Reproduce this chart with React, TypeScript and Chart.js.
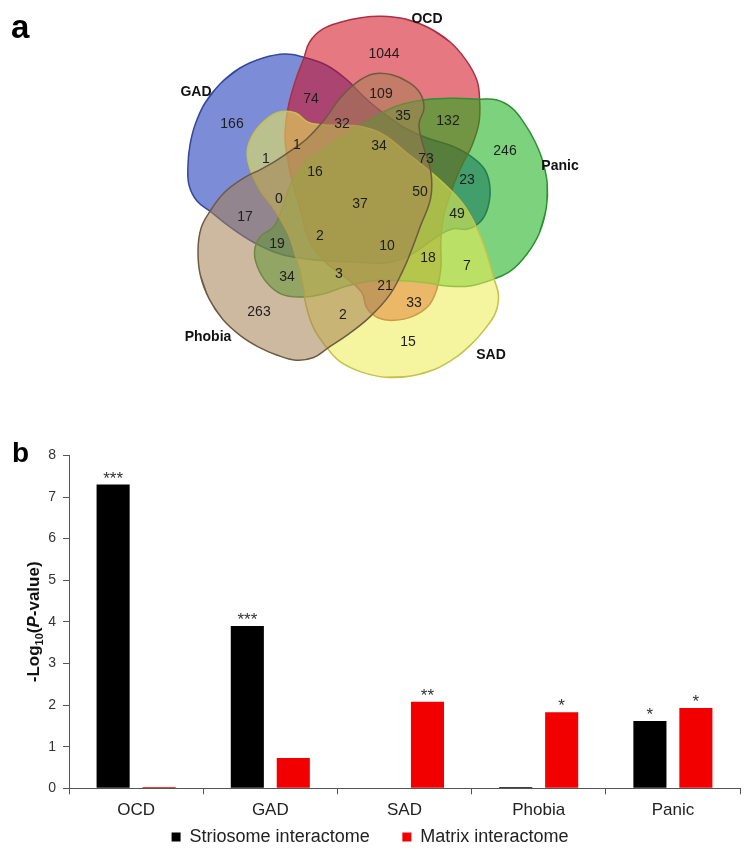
import React, { useEffect, useRef } from 'react';
import { Chart, registerables } from 'chart.js';

Chart.register(...registerables);

// ---------------- Panel a : five-set Venn diagram ----------------
const vennSets = ['GAD', 'OCD', 'Panic', 'SAD', 'Phobia'];
// each set is the same outline turned by a multiple of 72 degrees around the centre
const vennRotationDeg = [0, 72, 144, 216, 288];
const vennCentre = [363, 199];
// outline of the GAD set (x, y in the panel's 749 x 440 space)
const vennOutline: [number, number][] = [
  [220, 84], [240, 68], [263, 58], [285, 54], [303, 57], [326, 65], [346, 79], [360, 93],
  [372, 104], [386, 115], [403, 127], [427, 138], [452, 146], [472, 157], [485, 170],
  [490, 188], [488, 207], [481, 221], [468, 229], [452, 229], [435, 238], [410, 255],
  [385, 263], [355, 262], [330, 261], [307, 259], [280, 254], [253, 242], [230, 227],
  [211, 212], [197, 201], [189, 185], [188, 165], [190, 145], [195, 125], [205, 103],
];
const vennFill = [
  'rgba(19,46,182,0.55)',
  'rgba(210,10,28,0.55)',
  'rgba(19,173,19,0.55)',
  'rgba(237,237,82,0.55)',
  'rgba(164,128,82,0.55)',
];
const vennBorder = ['#33489c', '#a83244', '#2f8f35', '#c4c24a', '#6e5a40'];
const vennLayer = [5, 4, 3, 2, 1]; // lower = painted later (on top)

const setLabelX = [196, 427, 560, 491, 208];
const setLabelY = [92, 19, 166, 355, 337];

const regionCounts = [
  1044, 74, 109, 166, 32, 35, 132, 34, 246, 1, 1, 16, 73, 23, 0, 37,
  50, 49, 17, 2, 19, 10, 18, 7, 34, 3, 21, 33, 263, 2, 15,
];
const regionX = [
  384, 311, 381, 232, 342, 403, 448, 379, 505, 297, 266, 315, 426, 467, 279, 360,
  420, 457, 245, 320, 277, 387, 428, 467, 287, 339, 385, 414, 259, 343, 408,
];
const regionY = [
  54, 99, 94, 124, 124, 116, 121, 146, 151, 145, 159, 172, 159, 180, 199, 204,
  192, 214, 217, 236, 244, 246, 258, 266, 277, 274, 286, 303, 312, 315, 342,
];

// ---------------- Panel b : enrichment bars ----------------
const categories = ['OCD', 'GAD', 'SAD', 'Phobia', 'Panic'];
const striosomeValues = [7.3, 3.9, 0, 0.03, 1.62];
const matrixValues = [0.03, 0.73, 2.08, 1.83, 1.93];
const striosomeStars = ['***', '***', '', '', '*'];
const matrixStars = ['', '', '**', '*', '*'];
const seriesNames = ['Striosome interactome', 'Matrix interactome'];
const yTickMax = 8;

const SANS = '"Liberation Sans", Arial, Helvetica, sans-serif';

function rotatePt(p: [number, number], deg: number) {
  const a = (deg * Math.PI) / 180;
  const dx = p[0] - vennCentre[0];
  const dy = p[1] - vennCentre[1];
  return {
    x: vennCentre[0] + dx * Math.cos(a) - dy * Math.sin(a),
    y: vennCentre[1] + dx * Math.sin(a) + dy * Math.cos(a),
  };
}

const textPlugin = {
  id: 'textPlugin',
  afterDatasetsDraw(chart: any) {
    const ctx = chart.ctx;
    chart.data.datasets.forEach((ds: any, i: number) => {
      if (!ds.texts) return;
      const meta = chart.getDatasetMeta(i);
      ctx.save();
      ctx.font = ds.textFont;
      ctx.fillStyle = ds.textColor;
      ctx.textAlign = 'center';
      ctx.textBaseline = 'middle';
      meta.data.forEach((el: any, j: number) => {
        const t = ds.texts[j];
        if (t === '' || t === undefined) return;
        ctx.fillText(String(t), el.x, el.y);
      });
      ctx.restore();
    });
    const letter = chart.options.plugins.textPlugin?.letter;
    if (letter) {
      ctx.save();
      ctx.font = letter.font;
      ctx.fillStyle = '#000';
      ctx.textAlign = 'left';
      ctx.textBaseline = 'alphabetic';
      ctx.fillText(letter.text, letter.x, letter.y);
      ctx.restore();
    }
  },
};

const starPlugin = {
  id: 'starPlugin',
  afterDatasetsDraw(chart: any) {
    const ctx = chart.ctx;
    ctx.save();
    ctx.font = `17px ${SANS}`;
    ctx.fillStyle = '#333';
    ctx.textAlign = 'center';
    ctx.textBaseline = 'alphabetic';
    chart.data.datasets.forEach((ds: any, i: number) => {
      const meta = chart.getDatasetMeta(i);
      meta.data.forEach((bar: any, j: number) => {
        const s = ds.stars?.[j];
        if (s) ctx.fillText(s, bar.x, bar.y - 1);
      });
    });
    ctx.restore();
  },
};

const yTitlePlugin = {
  id: 'yTitlePlugin',
  afterDraw(chart: any) {
    const { ctx, chartArea } = chart;
    const cy = (chartArea.top + chartArea.bottom) / 2;
    const parts = [
      { t: '-Log', f: `bold 17px ${SANS}`, dy: 6 },
      { t: '10', f: `bold 11px ${SANS}`, dy: 10 },
      { t: '(', f: `bold 17px ${SANS}`, dy: 6 },
      { t: 'P', f: `italic bold 17px ${SANS}`, dy: 6 },
      { t: '-value)', f: `bold 17px ${SANS}`, dy: 6 },
    ];
    ctx.save();
    let total = 0;
    const widths = parts.map((p) => {
      ctx.font = p.f;
      const w = ctx.measureText(p.t).width;
      total += w;
      return w;
    });
    ctx.translate(33, cy);
    ctx.rotate(-Math.PI / 2);
    ctx.fillStyle = '#111';
    ctx.textAlign = 'left';
    ctx.textBaseline = 'alphabetic';
    let x = -total / 2;
    parts.forEach((p, i) => {
      ctx.font = p.f;
      ctx.fillText(p.t, x, p.dy);
      x += widths[i];
    });
    ctx.restore();
  },
};

function VennPanel() {
  const ref = useRef<HTMLCanvasElement | null>(null);
  useEffect(() => {
    if (!ref.current) return;
    const shapeSets = vennSets.map((name, k) => {
      const pts = vennOutline.map((p) => rotatePt(p, vennRotationDeg[k]));
      const n = pts.length;
      // wrap a point on each side so the closed outline stays smooth
      const data = [pts[n - 1], ...pts, pts[0], pts[1]];
      return {
        label: name,
        data,
        showLine: true,
        fill: 'shape',
        tension: 0.4,
        backgroundColor: vennFill[k],
        borderColor: vennBorder[k],
        borderWidth: 1.5,
        pointRadius: 0,
        order: vennLayer[k],
      };
    });
    const counts = {
      label: 'counts',
      data: regionCounts.map((_, i) => ({ x: regionX[i], y: regionY[i] })),
      texts: regionCounts,
      textFont: `14px ${SANS}`,
      textColor: '#1e1e1e',
      pointRadius: 0,
      showLine: false,
      order: 0,
    };
    const names = {
      label: 'names',
      data: vennSets.map((_, i) => ({ x: setLabelX[i], y: setLabelY[i] })),
      texts: vennSets,
      textFont: `bold 14px ${SANS}`,
      textColor: '#111',
      pointRadius: 0,
      showLine: false,
      order: 0,
    };
    const chart = new Chart(ref.current, {
      type: 'scatter',
      data: { datasets: [...shapeSets, counts, names] as any },
      options: {
        animation: false,
        responsive: false,
        devicePixelRatio: 1,
        events: [],
        layout: { padding: 0 },
        scales: {
          x: { type: 'linear', min: 0, max: 749, display: false },
          y: { type: 'linear', min: 0, max: 440, reverse: true, display: false },
        },
        plugins: {
          legend: { display: false },
          tooltip: { enabled: false },
          textPlugin: { letter: { text: 'a', x: 11, y: 38, font: `bold 33px ${SANS}` } },
        } as any,
      },
      plugins: [textPlugin],
    });
    return () => chart.destroy();
  }, []);
  return <canvas ref={ref} width={749} height={440} style={{ display: 'block' }} />;
}

function BarPanel() {
  const ref = useRef<HTMLCanvasElement | null>(null);
  useEffect(() => {
    if (!ref.current) return;
    const chart = new Chart(ref.current, {
      type: 'bar',
      data: {
        labels: categories,
        datasets: [
          {
            label: seriesNames[0],
            data: striosomeValues,
            backgroundColor: '#000000',
            borderWidth: 0,
            categoryPercentage: 0.685,
            barPercentage: 0.72,
            stars: striosomeStars,
          } as any,
          {
            label: seriesNames[1],
            data: matrixValues,
            backgroundColor: '#f20000',
            borderWidth: 0,
            categoryPercentage: 0.685,
            barPercentage: 0.72,
            stars: matrixStars,
          } as any,
        ],
      },
      options: {
        animation: false,
        responsive: false,
        devicePixelRatio: 1,
        events: [],
        layout: { padding: { top: 7, right: 9, bottom: 10, left: 0 } },
        scales: {
          x: {
            grid: { offset: true, drawOnChartArea: false, drawTicks: true, tickLength: 6, color: '#555' },
            border: { display: true, color: '#555', width: 1 },
            ticks: { font: { family: SANS, size: 17 }, color: '#222', padding: 6 },
            afterFit: (s: any) => { s.height = 34; },
          },
          y: {
            min: 0,
            max: yTickMax,
            ticks: { stepSize: 1, font: { family: SANS, size: 14 }, color: '#333', padding: 7 },
            grid: { drawOnChartArea: false, drawTicks: true, tickLength: 6, color: '#555' },
            border: { display: true, color: '#555', width: 1 },
            afterFit: (s: any) => { s.width = 69; },
          },
        },
        plugins: {
          legend: {
            position: 'bottom',
            labels: {
              boxWidth: 9,
              boxHeight: 9,
              padding: 5.7,
              color: '#222',
              font: { family: SANS, size: 18 },
              generateLabels: (c: any) => {
                const items = (Chart.defaults.plugins.legend.labels as any).generateLabels(c);
                return items.map((it: any, i: number) =>
                  i < items.length - 1 ? { ...it, text: it.text + '\u2003\u2002' } : it
                );
              },
            },
          },
          tooltip: { enabled: false },
          textPlugin: { letter: { text: 'b', x: 12, y: 21.7, font: `bold 28px ${SANS}` } },
        } as any,
      },
      plugins: [starPlugin, yTitlePlugin, textPlugin],
    });
    return () => chart.destroy();
  }, []);
  return <canvas ref={ref} width={749} height={426} style={{ display: 'block' }} />;
}

export default function App() {
  useEffect(() => {
    document.body.style.margin = '0';
    document.body.style.background = '#ffffff';
  }, []);
  return (
    <div style={{ width: 749, height: 866, background: '#fff' }}>
      <VennPanel />
      <BarPanel />
    </div>
  );
}
